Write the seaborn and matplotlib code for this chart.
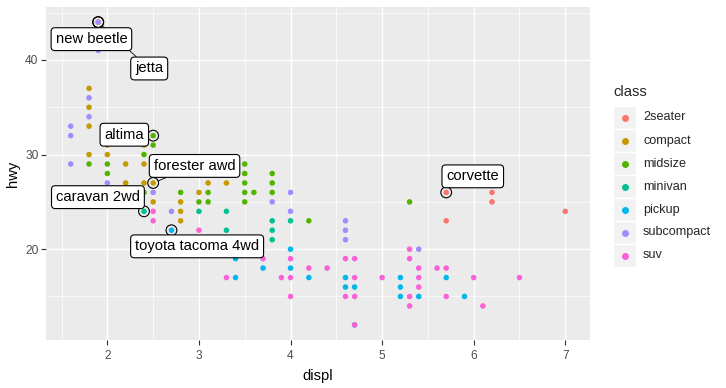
import numpy as np
import pandas as pd
import matplotlib
matplotlib.use('Agg')
import matplotlib.pyplot as plt
from matplotlib.patches import Rectangle
from matplotlib.lines import Line2D
from matplotlib.ticker import MultipleLocator
import seaborn as sns

# classes and ggplot hue colours
classes = ['2seater', 'compact', 'midsize', 'minivan', 'pickup', 'subcompact', 'suv']
colors = ['#F8766D', '#C49A00', '#53B400', '#00C094', '#00B6EB', '#A58AFF', '#FB61D7']

# points (distinct positions only)
displ_2seater = [5.7, 5.7, 6.2, 6.2, 7.0]
hwy_2seater = [26, 23, 26, 25, 24]

displ_compact = [1.8, 1.8, 1.8, 1.8, 1.8, 1.8, 1.9, 2.0, 2.0, 2.2, 2.2, 2.4, 2.4, 2.4, 2.5, 2.5, 2.8, 2.8, 2.8, 3.0, 3.1, 3.3]
hwy_compact = [37, 35, 33, 30, 26, 25, 44, 31, 30, 29, 27, 31, 29, 27, 27, 25, 25, 24, 23, 26, 27, 27]

displ_midsize = [1.8, 2.0, 2.0, 2.4, 2.4, 2.5, 2.5, 2.8, 3.0, 3.1, 3.1, 3.5, 3.5, 3.5, 3.5, 3.5, 3.6, 3.8, 3.8, 3.8, 4.2, 5.3]
hwy_midsize = [29, 29, 28, 30, 26, 32, 31, 26, 25, 26, 25, 29, 28, 27, 26, 25, 26, 28, 27, 26, 23, 25]

displ_minivan = [2.4, 3.0, 3.3, 3.3, 3.8, 3.8, 3.8, 4.0]
hwy_minivan = [24, 24, 24, 22, 23, 22, 21, 23]

displ_pickup = [2.7, 2.7, 3.4, 3.4, 3.7, 4.0, 4.0, 4.2, 4.6, 4.6, 4.7, 4.7, 5.2, 5.2, 5.2, 5.4, 5.7, 5.9]
hwy_pickup = [22, 20, 19, 17, 18, 20, 18, 17, 17, 16, 16, 12, 17, 16, 15, 15, 17, 15]

displ_subcompact = [1.6, 1.6, 1.6, 1.8, 1.8, 1.9, 1.9, 2.0, 2.5, 2.7, 3.8, 4.0, 4.0, 4.6, 4.6, 4.6, 5.4]
hwy_subcompact = [33, 32, 29, 36, 34, 44, 41, 27, 26, 24, 25, 26, 24, 23, 22, 21, 20]

displ_suv = [2.5, 2.5, 3.0, 3.3, 3.7, 3.9, 4.0, 4.0, 4.0, 4.2, 4.4, 4.6, 4.6, 4.7, 4.7, 4.7, 4.7, 5.0,
             5.3, 5.3, 5.3, 5.3, 5.4, 5.4, 5.4, 5.6, 5.7, 5.7, 6.0, 6.1, 6.5]
hwy_suv = [24, 23, 22, 17, 19, 17, 19, 17, 15, 18, 18, 19, 15, 19, 17, 15, 12, 17,
           20, 19, 15, 14, 18, 17, 16, 18, 18, 15, 17, 14, 17]

# best in class (highlighted + labelled)
best_model = ['corvette', 'jetta', 'altima', 'caravan 2wd', 'toyota tacoma 4wd', 'new beetle', 'forester awd']
best_displ = [5.7, 1.9, 2.5, 2.4, 2.7, 1.9, 2.5]
best_hwy = [26, 44, 32, 24, 22, 44, 27]

# where the repelled labels ended up (data coords of label centre)
label_x = [5.99, 2.457, 2.185, 1.897, 2.98, 1.826, 2.952]
label_y = [27.7, 39.1, 32.1, 25.5, 20.3, 42.2, 28.8]
label_segment = [False, True, False, False, False, False, True]

displ_all = [displ_2seater, displ_compact, displ_midsize, displ_minivan, displ_pickup, displ_subcompact, displ_suv]
hwy_all = [hwy_2seater, hwy_compact, hwy_midsize, hwy_minivan, hwy_pickup, hwy_subcompact, hwy_suv]

frames = []
for c, d, h in zip(classes, displ_all, hwy_all):
    frames.append(pd.DataFrame({'displ': d, 'hwy': h, 'class': c}))
mpg = pd.concat(frames, ignore_index=True)
best = pd.DataFrame({'model': best_model, 'displ': best_displ, 'hwy': best_hwy})

sns.set_style('darkgrid', {'axes.facecolor': '#EBEBEB', 'grid.color': 'white'})
plt.rcParams['font.family'] = ['Liberation Sans', 'DejaVu Sans']

W, H = 726, 388
fig = plt.figure(figsize=(W / 100, H / 100), dpi=100)
ax = fig.add_axes([46 / W, 1 - 340 / H, (590 - 46) / W, (340 - 7) / H])

sns.scatterplot(data=mpg, x='displ', y='hwy', hue='class', hue_order=classes,
                palette=colors, s=16, linewidth=0, legend=False, ax=ax, zorder=3)
sns.scatterplot(data=best, x='displ', y='hwy', s=60, facecolor='none',
                edgecolor='black', linewidth=0.8, ax=ax, zorder=4)

ax.set_xlim(1.33, 7.27)
ax.set_ylim(10.4, 45.6)
ax.xaxis.set_major_locator(MultipleLocator(1))
ax.xaxis.set_minor_locator(MultipleLocator(0.5))
ax.yaxis.set_major_locator(MultipleLocator(10))
ax.yaxis.set_minor_locator(MultipleLocator(5))
ax.grid(which='major', color='white', linewidth=1.0)
ax.grid(which='minor', color='white', linewidth=0.5)
for s in ax.spines.values():
    s.set_visible(False)
ax.tick_params(which='major', length=3.5, width=0.8, color='#333333', labelcolor='#4D4D4D',
               labelsize=8.6, bottom=True, left=True)
ax.tick_params(axis='x', which='major', pad=4)
ax.tick_params(axis='y', which='major', pad=2)
ax.tick_params(which='minor', length=0)
ax.set_xlabel('displ', fontsize=10.6, color='black', labelpad=5)
ax.set_ylabel('hwy', fontsize=10.6, color='black', labelpad=4)

# labels
zo = 5
for m, px, py, lx, ly, seg in zip(best_model, best_displ, best_hwy, label_x, label_y, label_segment):
    arrow = None
    if seg:
        arrow = dict(arrowstyle='-', color='black', lw=0.6, shrinkA=0, shrinkB=4)
    zo_l = zo + (2 if m == 'new beetle' else 0)
    ax.annotate(m, xy=(px, py), xytext=(lx, ly), textcoords='data',
                ha='center', va='center', fontsize=10.6, color='black',
                bbox=dict(boxstyle='round,pad=0.3,rounding_size=0.25', fc='white', ec='black', lw=0.8),
                arrowprops=arrow, zorder=zo_l)

# legend (ggplot style)
fig.text(613 / W, 1 - 92 / H, 'class', fontsize=10.6, ha='left', va='center')
for i, (c, col) in enumerate(zip(classes, colors)):
    top = 106 + 23 * i
    fig.add_artist(Rectangle((613 / W, 1 - (top + 23) / H), 23 / W, 23 / H,
                             transform=fig.transFigure, facecolor='#F2F2F2', edgecolor='white', lw=1))
    fig.add_artist(Line2D([624.5 / W], [1 - (top + 11.5) / H], transform=fig.transFigure,
                          marker='o', markersize=4, color=col, linestyle='none'))
    fig.text(643 / W, 1 - (top + 11.5) / H, c, fontsize=9.1, ha='left', va='center')

fig.savefig('out.png', dpi=100)
